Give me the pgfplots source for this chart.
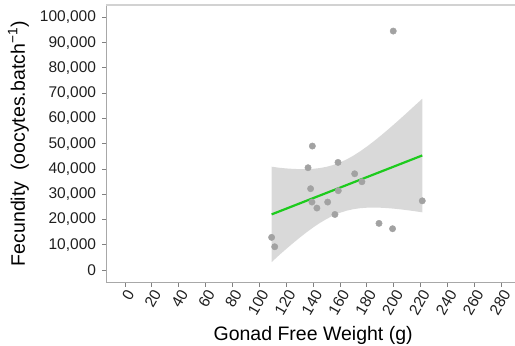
\documentclass[border=0pt]{standalone}
\usepackage{fontspec}
\setmainfont{Liberation Sans}
\usepackage{pgfplots}
\pgfplotsset{compat=1.18}

\definecolor{ptgray}{HTML}{A2A2A2}
\definecolor{bandgray}{HTML}{D9D9D9}
\definecolor{fitgreen}{HTML}{1DCB1D}
\definecolor{axisgray}{HTML}{A8A8A8}
\definecolor{bordergray}{HTML}{D2D2D2}

\begin{document}
\begin{tikzpicture}
\begin{axis}[
  at={(0,0)}, anchor=south west,
  scale only axis, width=413.9pt, height=278pt,
  xmin=-14, xmax=294, ymin=-5000, ymax=105000,
  axis lines=left,
  axis line style={-, draw=axisgray, line width=1.2pt},
  xtick={0,20,...,280}, ytick={0,10000,...,100000},
  tick align=outside, major tick length=4pt,
  tick style={draw=gray, line width=0.9pt},
  scaled y ticks=false,
  /pgf/number format/assume math mode=true,
  /pgf/number format/fixed,
  yticklabel style={/pgf/number format/1000 sep={,}, anchor=east, inner xsep=0pt, xshift=-6pt},
  ticklabel style={font=\fontsize{15.5}{18}\selectfont, text=black!88},
  xticklabel style={rotate=60, anchor=north east, inner sep=1pt},
  xlabel={Gonad Free Weight (g)},
  ylabel={Fecundity\ \ (oocytes.batch\textsuperscript{−1})},
  label style={font=\fontsize{19.5}{22}\selectfont},
  xlabel style={at={(axis description cs:0.5,-0.2086)}, anchor=base},
  ylabel style={at={(axis description cs:-0.1962,0.5)}, anchor=base},
  clip=false,
]
% 95% confidence band of the linear fit
\addplot[fill=bandgray, draw=none] coordinates {
  (109.1,40900) (115,40469) (120,40221) (125,40037) (130,39933) (135,39934)
  (140,40064) (145,40360) (150,40856) (155,41583) (160,42566) (165,43808)
  (170,45293) (175,46993) (180,48876) (185,50901) (190,53041) (195,55275)
  (200,57576) (205,59934) (210,62337) (215,64776) (221.2,67780)
  (221.2,22850) (215,23336) (210,23695) (205,24018) (200,24296) (195,24517)
  (190,24671) (185,24731) (180,24676) (175,24479) (170,24099) (165,23504)
  (160,22666) (155,21569) (150,20216) (145,18632) (140,16848) (135,14898)
  (130,12819) (125,10635) (120,8371) (115,6043) (109.1,3150)
} -- cycle;
% observations
\addplot[color=ptgray, only marks, mark=*, mark size=3.2pt, mark options={solid, fill=ptgray, draw=ptgray}] coordinates {
  (199.6,94570) (139.4,49070) (136.2,40500) (158.5,42600) (170.9,38100)
  (176.3,34950) (138.1,32200) (158.7,31400) (139.1,26900) (150.8,26900)
  (142.8,24530) (156.2,22000) (221.2,27400) (189.0,18470) (199.1,16360)
  (109.1,12930) (111.4,9230)
};
% fitted regression line
\addplot[fitgreen, line width=2.2pt] coordinates {(109.1,22030) (221.2,45350)};
% upper panel border
\draw[bordergray, line width=1.6pt] (rel axis cs:0,1) -- (rel axis cs:1,1);
\end{axis}
\pgfresetboundingbox
\path[use as bounding box] (-106.2pt,-63.3pt) rectangle (408.8pt,282.7pt);
\end{tikzpicture}
\end{document}
